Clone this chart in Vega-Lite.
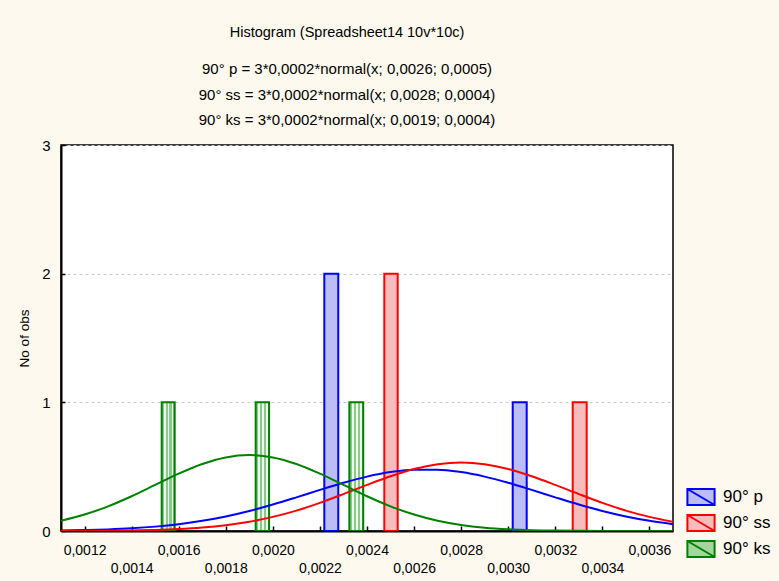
{
  "$schema": "https://vega.github.io/schema/vega-lite/v6.json",
  "width": 612,
  "height": 386,
  "autosize": "none",
  "padding": {"left": 61, "top": 145, "right": 106, "bottom": 50},
  "background": "#fdf9ef",
  "title": {
    "text": "Histogram (Spreadsheet14 10v*10c)",
    "subtitle": ["90° p = 3*0,0002*normal(x; 0,0026; 0,0005)", "90° ss = 3*0,0002*normal(x; 0,0028; 0,0004)", "90° ks = 3*0,0002*normal(x; 0,0019; 0,0004)"],
    "anchor": "middle",
    "dx": -20,
    "font": "Liberation Sans",
    "fontSize": 14.5,
    "fontWeight": "normal",
    "color": "#000000",
    "subtitleFont": "Liberation Sans",
    "subtitleFontSize": 15,
    "subtitleColor": "#000000",
    "subtitleLineHeight": 25.5,
    "subtitlePadding": 22,
    "offset": 9
  },
  "config": {
    "font": "Liberation Sans",
    "view": {"fill": "white", "stroke": "black", "strokeWidth": 1.5},
    "locale": {"number": {"decimal": ",", "thousands": ".", "grouping": [3], "currency": ["", ""]}}
  },
  "datasets": {
    "bars": [
      {"series": "90° p", "x0": 0.0022186, "x1": 0.002278, "count": 2},
      {"series": "90° p", "x0": 0.003019, "x1": 0.0030785, "count": 1},
      {"series": "90° ss", "x0": 0.0024735, "x1": 0.0025304, "count": 2},
      {"series": "90° ss", "x0": 0.0032739, "x1": 0.0033333, "count": 1},
      {"series": "90° ks", "x0": 0.0015278, "x1": 0.001583, "count": 1},
      {"series": "90° ks", "x0": 0.001927, "x1": 0.001984, "count": 1},
      {"series": "90° ks", "x0": 0.002325, "x1": 0.002384, "count": 1}
    ],
    "curves": [
      {"series": "90° p", "x": 0.0011, "y": 0.0039},
      {"series": "90° p", "x": 0.0012, "y": 0.0071},
      {"series": "90° p", "x": 0.0013, "y": 0.0125},
      {"series": "90° p", "x": 0.0014, "y": 0.021},
      {"series": "90° p", "x": 0.0015, "y": 0.034},
      {"series": "90° p", "x": 0.0016, "y": 0.0528},
      {"series": "90° p", "x": 0.0017, "y": 0.0788},
      {"series": "90° p", "x": 0.0018, "y": 0.1129},
      {"series": "90° p", "x": 0.0019, "y": 0.1555},
      {"series": "90° p", "x": 0.002, "y": 0.2058},
      {"series": "90° p", "x": 0.0021, "y": 0.2616},
      {"series": "90° p", "x": 0.0022, "y": 0.3195},
      {"series": "90° p", "x": 0.0023, "y": 0.3749},
      {"series": "90° p", "x": 0.0024, "y": 0.4227},
      {"series": "90° p", "x": 0.0025, "y": 0.4579},
      {"series": "90° p", "x": 0.0026, "y": 0.4766},
      {"series": "90° p", "x": 0.0027, "y": 0.4766},
      {"series": "90° p", "x": 0.0028, "y": 0.4579},
      {"series": "90° p", "x": 0.0029, "y": 0.4227},
      {"series": "90° p", "x": 0.003, "y": 0.3749},
      {"series": "90° p", "x": 0.0031, "y": 0.3195},
      {"series": "90° p", "x": 0.0032, "y": 0.2616},
      {"series": "90° p", "x": 0.0033, "y": 0.2058},
      {"series": "90° p", "x": 0.0034, "y": 0.1555},
      {"series": "90° p", "x": 0.0035, "y": 0.1129},
      {"series": "90° p", "x": 0.0036, "y": 0.0788},
      {"series": "90° p", "x": 0.0037, "y": 0.0528},
      {"series": "90° ss", "x": 0.0011, "y": 0.0004},
      {"series": "90° ss", "x": 0.0012, "y": 0.001},
      {"series": "90° ss", "x": 0.0013, "y": 0.0021},
      {"series": "90° ss", "x": 0.0014, "y": 0.0042},
      {"series": "90° ss", "x": 0.0015, "y": 0.0082},
      {"series": "90° ss", "x": 0.0016, "y": 0.0152},
      {"series": "90° ss", "x": 0.0017, "y": 0.0268},
      {"series": "90° ss", "x": 0.0018, "y": 0.045},
      {"series": "90° ss", "x": 0.0019, "y": 0.072},
      {"series": "90° ss", "x": 0.002, "y": 0.1096},
      {"series": "90° ss", "x": 0.0021, "y": 0.1586},
      {"series": "90° ss", "x": 0.0022, "y": 0.2187},
      {"series": "90° ss", "x": 0.0023, "y": 0.287},
      {"series": "90° ss", "x": 0.0024, "y": 0.3584},
      {"series": "90° ss", "x": 0.0025, "y": 0.426},
      {"series": "90° ss", "x": 0.0026, "y": 0.482},
      {"series": "90° ss", "x": 0.0027, "y": 0.519},
      {"series": "90° ss", "x": 0.0028, "y": 0.532},
      {"series": "90° ss", "x": 0.0029, "y": 0.519},
      {"series": "90° ss", "x": 0.003, "y": 0.482},
      {"series": "90° ss", "x": 0.0031, "y": 0.426},
      {"series": "90° ss", "x": 0.0032, "y": 0.3584},
      {"series": "90° ss", "x": 0.0033, "y": 0.287},
      {"series": "90° ss", "x": 0.0034, "y": 0.2187},
      {"series": "90° ss", "x": 0.0035, "y": 0.1586},
      {"series": "90° ss", "x": 0.0036, "y": 0.1096},
      {"series": "90° ss", "x": 0.0037, "y": 0.072},
      {"series": "90° ks", "x": 0.0011, "y": 0.0798},
      {"series": "90° ks", "x": 0.0012, "y": 0.1277},
      {"series": "90° ks", "x": 0.0013, "y": 0.1916},
      {"series": "90° ks", "x": 0.0014, "y": 0.2701},
      {"series": "90° ks", "x": 0.0015, "y": 0.3578},
      {"series": "90° ks", "x": 0.0016, "y": 0.4453},
      {"series": "90° ks", "x": 0.0017, "y": 0.5207},
      {"series": "90° ks", "x": 0.0018, "y": 0.5718},
      {"series": "90° ks", "x": 0.0019, "y": 0.59},
      {"series": "90° ks", "x": 0.002, "y": 0.5718},
      {"series": "90° ks", "x": 0.0021, "y": 0.5207},
      {"series": "90° ks", "x": 0.0022, "y": 0.4453},
      {"series": "90° ks", "x": 0.0023, "y": 0.3578},
      {"series": "90° ks", "x": 0.0024, "y": 0.2701},
      {"series": "90° ks", "x": 0.0025, "y": 0.1916},
      {"series": "90° ks", "x": 0.0026, "y": 0.1277},
      {"series": "90° ks", "x": 0.0027, "y": 0.0798},
      {"series": "90° ks", "x": 0.0028, "y": 0.047},
      {"series": "90° ks", "x": 0.0029, "y": 0.0259},
      {"series": "90° ks", "x": 0.003, "y": 0.0135},
      {"series": "90° ks", "x": 0.0031, "y": 0.0065},
      {"series": "90° ks", "x": 0.0032, "y": 0.003},
      {"series": "90° ks", "x": 0.0033, "y": 0.0013},
      {"series": "90° ks", "x": 0.0034, "y": 0.0005},
      {"series": "90° ks", "x": 0.0035, "y": 0.0002},
      {"series": "90° ks", "x": 0.0036, "y": 0.0001},
      {"series": "90° ks", "x": 0.0037, "y": 0.0}
    ]
  },
  "layer": [
    {
      "data": {"name": "bars"},
      "mark": {"type": "bar", "strokeWidth": 2, "clip": true},
      "encoding": {
        "x": {
          "field": "x0", "type": "quantitative",
          "scale": {"domain": [0.0011, 0.0037], "nice": false, "zero": false},
          "axis": {
            "values": [0.0012, 0.0014, 0.0016, 0.0018, 0.002, 0.0022, 0.0024, 0.0026, 0.0028, 0.003, 0.0032, 0.0034, 0.0036],
            "format": ".4f",
            "labelExpr": "round(datum.value*10000) % 4 == 2 ? ['', datum.label] : datum.label",
            "labelFontSize": 14,
            "labelColor": "#000000",
            "labelLineHeight": 18,
            "labelOverlap": false,
            "labelFlush": false,
            "labelBound": false,
            "labelPadding": 17,
            "title": null,
            "grid": false,
            "tickSize": -5,
            "tickColor": "black",
            "tickWidth": 1.5,
            "domainColor": "black",
            "domainWidth": 2
          }
        },
        "x2": {"field": "x1"},
        "y": {
          "field": "count", "type": "quantitative",
          "scale": {"domain": [0, 3], "nice": false},
          "axis": {
            "values": [0, 1, 2, 3],
            "format": "d",
            "title": "No of obs",
            "titleFontSize": 13.5,
            "titleFontWeight": "normal",
            "titleColor": "#000000",
            "titlePadding": 10,
            "labelFontSize": 15,
            "labelColor": "#000000",
            "labelPadding": 15,
            "grid": true,
            "gridDash": [3, 3],
            "gridColor": "#c8c8c8",
            "tickSize": -4,
            "tickColor": "black",
            "tickWidth": 1.5,
            "domainColor": "black",
            "domainWidth": 2
          }
        },
        "y2": {"datum": 0},
        "fill": {
          "condition": {
            "test": "datum.series === '90° ks'",
            "value": {
              "gradient": "linear", "x1": 0, "y1": 0, "x2": 1, "y2": 0,
              "stops": [
                {"offset": 0, "color": "#8cc88c"}, {"offset": 0.2, "color": "#8cc88c"},
                {"offset": 0.2, "color": "#eef7ee"}, {"offset": 0.3, "color": "#eef7ee"},
                {"offset": 0.3, "color": "#8cc88c"}, {"offset": 0.5, "color": "#8cc88c"},
                {"offset": 0.5, "color": "#eef7ee"}, {"offset": 0.6, "color": "#eef7ee"},
                {"offset": 0.6, "color": "#8cc88c"}, {"offset": 0.8, "color": "#8cc88c"},
                {"offset": 0.8, "color": "#eef7ee"}, {"offset": 0.9, "color": "#eef7ee"},
                {"offset": 0.9, "color": "#8cc88c"}, {"offset": 1, "color": "#8cc88c"}
              ]
            }
          },
          "field": "series", "type": "nominal",
          "scale": {"domain": ["90° p", "90° ss", "90° ks"], "range": ["#bcbcf6", "#f8bcbc", "#a4d4a0"]},
          "legend": {
            "title": null, "orient": "none", "legendX": 631, "legendY": 343,
            "symbolType": "M-1.7,-1L1.7,-1L1.7,1L-1.7,1Z M-1.7,-1L1.7,1",
            "symbolSize": 256, "symbolStrokeWidth": 2,
            "labelFontSize": 17, "labelColor": "#000000", "labelOffset": 13, "rowPadding": 2
          }
        },
        "stroke": {
          "field": "series", "type": "nominal",
          "scale": {"domain": ["90° p", "90° ss", "90° ks"], "range": ["#0000ff", "#ff0000", "#008000"]},
          "legend": {
            "title": null, "orient": "none", "legendX": 631, "legendY": 343,
            "symbolType": "M-1.7,-1L1.7,-1L1.7,1L-1.7,1Z M-1.7,-1L1.7,1",
            "symbolSize": 256, "symbolStrokeWidth": 2,
            "labelFontSize": 17, "labelColor": "#000000", "labelOffset": 13, "rowPadding": 2
          }
        }
      }
    },
    {
      "data": {"name": "curves"},
      "mark": {"type": "line", "strokeWidth": 2, "interpolate": "monotone", "clip": true},
      "encoding": {
        "x": {"field": "x", "type": "quantitative"},
        "y": {"field": "y", "type": "quantitative"},
        "stroke": {"field": "series", "type": "nominal"}
      }
    }
  ]
}
